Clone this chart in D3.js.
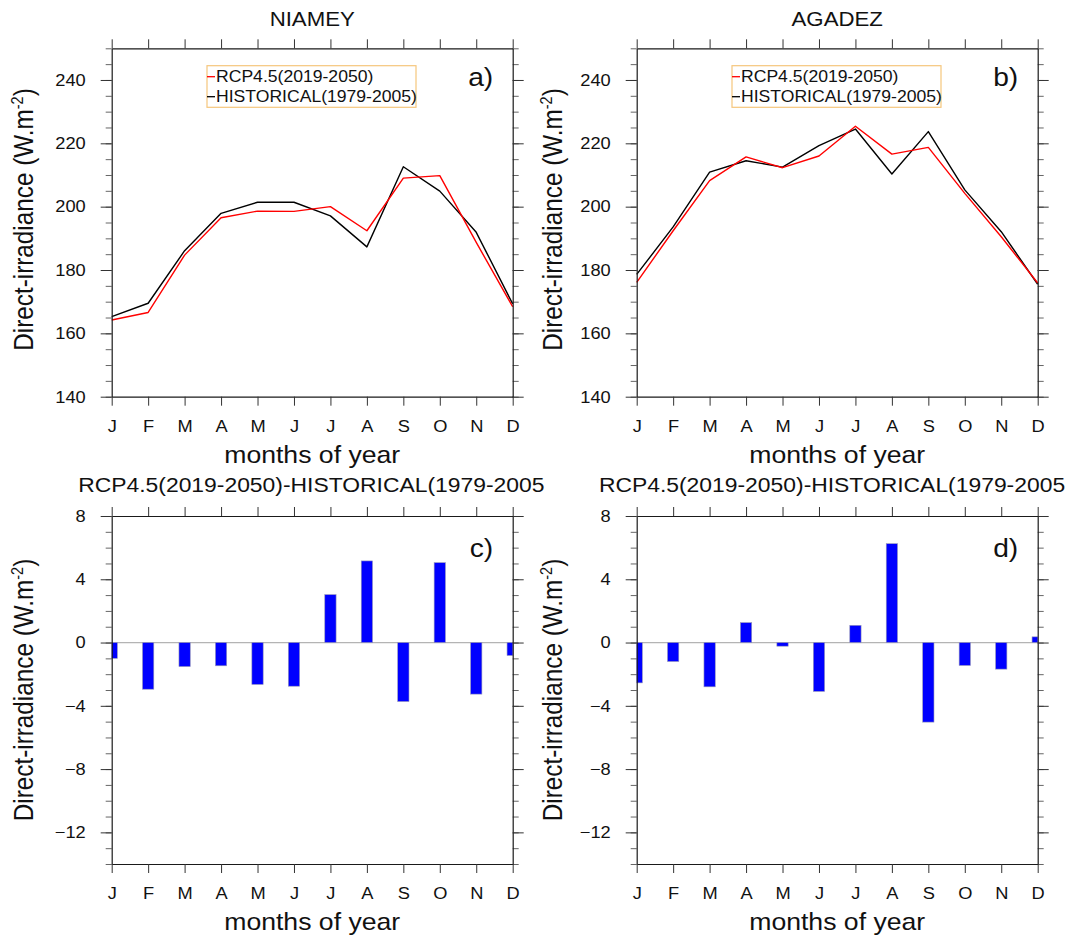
<!DOCTYPE html>
<html>
<head>
<meta charset="utf-8">
<script src="https://cdn.jsdelivr.net/npm/d3@7"></script>
<style>
  html, body { margin: 0; padding: 0; background: #fff; }
  svg { display: block; }
  text { font-family: "Liberation Sans", Arial, Helvetica, sans-serif; fill: #111; }
</style>
</head>
<body>
<svg id="chart" width="1071" height="940"></svg>
<script>
// ---------------- DATA ----------------
const months = ["J","F","M","A","M","J","J","A","S","O","N","D"];
const stations = ["NIAMEY", "AGADEZ"];
const panelLetters = ["a)", "b)", "c)", "d)"];
const seriesNames = ["RCP4.5(2019-2050)", "HISTORICAL(1979-2005)"];
const diffTitle = "RCP4.5(2019-2050)-HISTORICAL(1979-2005";
const xLabel = "months of year";

const niameyRcp  = [164.2, 166.6, 184.7, 196.5, 198.6, 198.5, 200.0, 192.4, 209.0, 209.8, 188.7, 168.4];
const niameyHist = [165.3, 169.5, 186.1, 197.9, 201.4, 201.4, 197.1, 187.3, 212.6, 204.9, 191.9, 169.3];
const agadezRcp  = [176.1, 192.4, 208.2, 215.7, 212.3, 216.0, 225.4, 216.6, 218.7, 204.2, 190.5, 175.9];
const agadezHist = [178.6, 193.6, 210.9, 214.5, 212.5, 219.3, 224.5, 210.3, 223.7, 205.3, 192.1, 175.5];
const niameyDiff = [-1.0, -2.95, -1.52, -1.47, -2.65, -2.76, 3.03, 5.16, -3.73, 5.05, -3.26, -0.82];
const agadezDiff = [-2.55, -1.2, -2.8, 1.26, -0.23, -3.09, 1.09, 6.25, -5.03, -1.45, -1.68, 0.36];

const lineTicks = [140, 160, 180, 200, 220, 240];
const lineMinor = d3.range(140, 251, 5);
const diffTicks = [-12, -8, -4, 0, 4, 8];
const diffMinor = d3.range(-14, 9, 1);

// ---------------- LAYOUT ----------------
const SX = 1.1; // horizontal glyph stretch
const svg = d3.select("#chart");
const colsX = [[111.7, 512.7], [636.7, 1037.7]];
const rowsY = [[48.3, 396.7], [516, 864]];
const yLabelX = [33, 562];

function txt(g, x, y, str, size, anchor) {
  return g.append("text")
    .attr("transform", `translate(${x},${y}) scale(${SX},1)`)
    .attr("text-anchor", anchor || "middle")
    .style("font-size", size + "px")
    .text(str);
}
function stretchTicks(sel) {
  sel.selectAll(".tick text").each(function () {
    const t = d3.select(this);
    const x = +t.attr("x") || 0, y = +t.attr("y") || 0;
    t.attr("x", null).attr("y", null)
     .attr("transform", `translate(${x},${y}) scale(${SX},1)`);
  });
}
function styleAxis(sel) {
  sel.selectAll("path.domain").attr("stroke", "#1a1a1a").attr("stroke-width", 1.2);
  sel.selectAll(".tick line").attr("stroke", "#333").attr("stroke-width", 1);
  sel.selectAll(".tick text").style("font-size", "16.6px").attr("fill", "#111")
     .style("font-family", '"Liberation Sans", Arial, sans-serif');
}

function drawFrame(g, x, y, ticks, minor) {
  const [x0, x1] = x.range();
  const [y1, y0] = y.range();
  // minor ticks
  const mL = g.append("g").attr("transform", `translate(${x0},0)`)
    .call(d3.axisLeft(y).tickValues(minor).tickSize(6).tickFormat(""));
  mL.select(".domain").remove();
  const mR = g.append("g").attr("transform", `translate(${x1},0)`)
    .call(d3.axisRight(y).tickValues(minor).tickSize(6).tickFormat(""));
  mR.select(".domain").remove();
  [mL, mR].forEach(s => s.selectAll(".tick line").attr("stroke", "#555").attr("stroke-width", 0.9));

  const aL = g.append("g").attr("transform", `translate(${x0},0)`)
    .call(d3.axisLeft(y).tickValues(ticks).tickSize(11).tickSizeOuter(0).tickPadding(15));
  const aR = g.append("g").attr("transform", `translate(${x1},0)`)
    .call(d3.axisRight(y).tickValues(ticks).tickSize(11).tickSizeOuter(0).tickFormat(""));
  const aB = g.append("g").attr("transform", `translate(0,${y1})`)
    .call(d3.axisBottom(x).tickValues(d3.range(12)).tickSize(9).tickSizeOuter(0)
      .tickPadding(14.2).tickFormat(i => months[i]));
  const aT = g.append("g").attr("transform", `translate(0,${y0})`)
    .call(d3.axisTop(x).tickValues(d3.range(12)).tickSize(9).tickSizeOuter(0).tickFormat(""));
  [aL, aR, aB, aT].forEach(styleAxis);
  stretchTicks(aL); stretchTicks(aB);
}

function yLabel(g, xb, yc) {
  const t = g.append("text")
    .attr("transform", `translate(${xb},${yc}) scale(${SX},1) rotate(-90)`)
    .attr("text-anchor", "middle")
    .style("font-size", "24.3px");
  t.append("tspan").text("Direct-irradiance (W.m");
  t.append("tspan").attr("dy", -9.5).style("font-size", "14.5px").text("-2");
  t.append("tspan").attr("dy", 9.5).text(")");
}

// ---------------- LINE PANELS ----------------
const lineData = [[niameyRcp, niameyHist], [agadezRcp, agadezHist]];
const lineColors = ["#ff0000", "#000000"];

lineData.forEach((pair, c) => {
  const [x0, x1] = colsX[c];
  const [y0, y1] = rowsY[0];
  const g = svg.append("g");
  const x = d3.scaleLinear().domain([0, 11]).range([x0, x1]);
  const y = d3.scaleLinear().domain([140, 250]).range([y1, y0]);
  const line = d3.line().x((d, i) => x(i)).y(d => y(d));

  [1, 0].forEach(k => {
    g.append("path").datum(pair[k])
      .attr("d", line).attr("fill", "none")
      .attr("stroke", lineColors[k]).attr("stroke-width", 1.4)
      .attr("stroke-linejoin", "round");
  });
  drawFrame(g, x, y, lineTicks, lineMinor);

  // legend
  const lx = x0 + 95.3, ly = 65.7;
  g.append("rect").attr("x", lx).attr("y", ly).attr("width", 209).attr("height", 41.6)
    .attr("fill", "none").attr("stroke", "#f6c67c").attr("stroke-width", 1.2);
  seriesNames.forEach((name, k) => {
    const yy = ly + 11 + k * 20;
    g.append("line").attr("x1", lx).attr("x2", lx + 8).attr("y1", yy).attr("y2", yy)
      .attr("stroke", lineColors[k]).attr("stroke-width", 1.3);
    txt(g, lx + 9, yy + 5.2, name, 16, "start");
  });

  txt(g, x1 - 19.5, y0 + 37.8, panelLetters[c], 25.6, "end");
  txt(g, (x0 + x1) / 2, 25.7, stations[c], 20.2, "middle");
  txt(g, (x0 + x1) / 2, y1 + 66.3, xLabel, 24.2, "middle");
  yLabel(g, yLabelX[c], (y0 + y1) / 2 - 3);
});

// ---------------- BAR PANELS ----------------
const diffData = [niameyDiff, agadezDiff];
diffData.forEach((vals, c) => {
  const [x0, x1] = colsX[c];
  const [y0, y1] = rowsY[1];
  const g = svg.append("g");
  const x = d3.scaleLinear().domain([0, 11]).range([x0, x1]);
  const y = d3.scaleLinear().domain([-14, 8]).range([y1, y0]);
  const bw = (x(1) - x(0)) * 0.31;

  const clipId = "clip" + c;
  g.append("clipPath").attr("id", clipId).append("rect")
    .attr("x", x0).attr("y", y0).attr("width", x1 - x0).attr("height", y1 - y0);

  g.append("line").attr("x1", x0).attr("x2", x1).attr("y1", y(0)).attr("y2", y(0))
    .attr("stroke", "#b4b4b4").attr("stroke-width", 1.3);

  g.append("g").attr("clip-path", `url(#${clipId})`)
    .selectAll("rect").data(vals).join("rect")
    .attr("x", (d, i) => x(i) - bw / 2)
    .attr("width", bw)
    .attr("y", d => y(Math.max(0, d)))
    .attr("height", d => Math.abs(y(d) - y(0)))
    .attr("fill", "#0000ff")
    .attr("stroke", "#9a9ab8").attr("stroke-width", 0.6);

  drawFrame(g, x, y, diffTicks, diffMinor);

  txt(g, x1 - 19.5, y0 + 40.5, panelLetters[c + 2], 25.6, "end");
  txt(g, c === 0 ? 311.3 : 832, 491.7, diffTitle, 20.8, "middle");
  txt(g, (x0 + x1) / 2, y1 + 66, xLabel, 24.2, "middle");
  yLabel(g, yLabelX[c], (y0 + y1) / 2);
});
</script>
</body>
</html>
